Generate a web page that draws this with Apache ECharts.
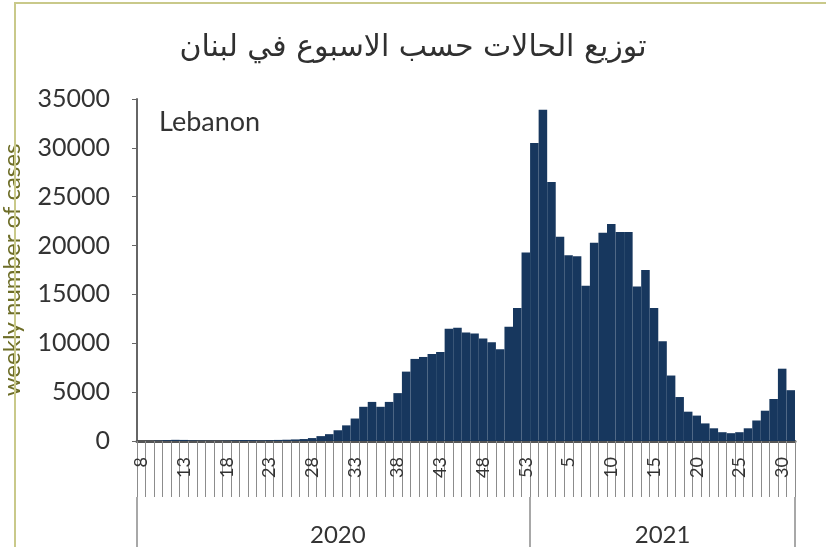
<!DOCTYPE html>
<html>
<head>
<meta charset="utf-8">
<script src="https://cdn.jsdelivr.net/npm/echarts@6/dist/echarts.min.js"></script>
<style>
html,body{margin:0;padding:0;background:#fff;}
#c{width:826px;height:547px;}
</style>
</head>
<body>
<div id="c"></div>
<script>
// ---- data ----
var weeks2020 = [8,9,10,11,12,13,14,15,16,17,18,19,20,21,22,23,24,25,26,27,28,29,30,31,32,33,34,35,36,37,38,39,40,41,42,43,44,45,46,47,48,49,50,51,52,53];
var weeks2021 = [1,2,3,4,5,6,7,8,9,10,11,12,13,14,15,16,17,18,19,20,21,22,23,24,25,26,27,28,29,30,31];
var cases2020 = [0,10,40,90,120,110,60,40,30,20,40,70,100,90,60,80,110,130,160,200,
                 300,500,700,1100,1600,2300,3500,4000,3500,4000,4900,7100,8400,8600,8900,9100,
                 11500,11600,11100,11000,10500,10100,9400,11700,13600,19300];
var cases2021 = [30500,33900,26500,20900,19000,18900,15900,20300,21300,22200,21400,21400,
                 15800,17500,13600,10200,6700,4500,3000,2600,1800,1300,900,800,900,1300,
                 2100,3100,4300,7400,5200];
var years = ['2020','2021'];
var yTicks = {min:0, max:35000, interval:5000};
var titleText = 'توزيع الحالات حسب الاسبوع في لبنان';
var countryText = 'Lebanon';
var yName = 'weekly number of cases';

// ---- build ----
var categories = weeks2020.map(String).concat(weeks2021.map(String));
var values = cases2020.concat(cases2021);
var n2020 = weeks2020.length, nAll = categories.length;
var yearCenter = [Math.floor(n2020/2), n2020 + Math.floor(weeks2021.length/2)];

var chart = echarts.init(document.getElementById('c'));
chart.setOption({
  backgroundColor:'#ffffff',
  animation:false,
  title:[
    {text:titleText, left:'center', top:28,
     textStyle:{fontFamily:'DejaVu Sans', fontSize:30, fontWeight:'normal', color:'#303030'}},
    {text:countryText, left:154, top:104,
     textStyle:{fontFamily:'Lato', fontSize:27, fontWeight:'normal', color:'#333333'}}
  ],
  grid:{left:137, right:31, top:99, bottom:106, containLabel:false, outerBoundsMode:'none'},
  xAxis:[
    {type:'category', data:categories, position:'bottom',
     axisLine:{show:true, lineStyle:{color:'#555555', width:3}},
     axisTick:{show:true, interval:0, length:56, lineStyle:{color:'#8c8c8c', width:1}},
     axisLabel:{interval:4, rotate:90, margin:16, fontFamily:'Lato', fontSize:18, color:'#333333'},
     splitLine:{show:false}},
    {type:'category', data:categories, position:'bottom', offset:56,
     axisLine:{show:false},
     axisTick:{show:true, length:50,
       interval:function(i){return i===0 || i===n2020;},
       lineStyle:{color:'#8c8c8c', width:1.5}},
     axisLabel:{interval:function(i){return i===yearCenter[0] || i===yearCenter[1];},
       formatter:function(v,i){return i<n2020?years[0]:years[1];},
       margin:26, fontFamily:'Lato', fontSize:24, color:'#333333'},
     splitLine:{show:false}}
  ],
  yAxis:{type:'value', min:yTicks.min, max:yTicks.max, interval:yTicks.interval,
    name:yName, nameLocation:'middle', nameGap:113, nameRotate:90,
    nameTextStyle:{fontFamily:'Lato', fontSize:24, color:'#6e6e28'},
    axisLine:{show:true, lineStyle:{color:'#666666', width:2}},
    axisTick:{show:true, inside:false, length:5, lineStyle:{color:'#666666'}},
    axisLabel:{margin:27, fontFamily:'Lato', fontSize:25, color:'#333333',
      formatter:function(v){return String(v);}},
    splitLine:{show:false}},
  series:[{type:'bar', data:values, barCategoryGap:'0%', xAxisIndex:0,
    itemStyle:{color:'#17375E'}}],
  graphic:[{type:'rect', shape:{x:15, y:3, width:900, height:600},
    style:{fill:'none', stroke:'#c9c98a', lineWidth:2}, silent:true, z:100}]
});
</script>
</body>
</html>
